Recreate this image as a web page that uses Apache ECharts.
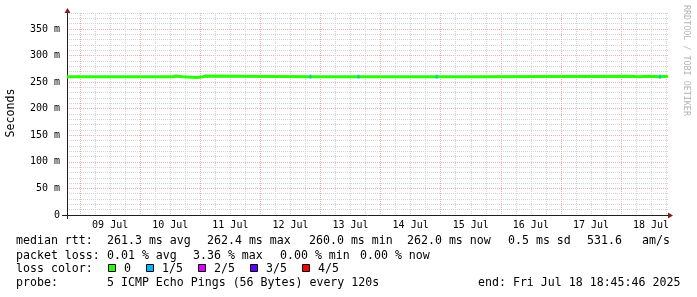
<!DOCTYPE html>
<html><head><meta charset="utf-8">
<script src="https://cdn.jsdelivr.net/npm/echarts@6/dist/echarts.min.js"></script>
<style>html,body{margin:0;padding:0;background:#fff}#c{width:697px;height:297px}</style>
</head><body><div id="c"></div>
<script>
// ---- data ----
const startTime = '2025-07-08 18:45:46';
const endTime   = '2025-07-18 18:45:46';
const sampleTimes = [
  '2025-07-08 18:46', '2025-07-10 13:10', '2025-07-10 14:10', '2025-07-10 16:46',
  '2025-07-10 22:46', '2025-07-11 01:10', '2025-07-11 02:10', '2025-07-12 19:58',
  '2025-07-12 20:40', '2025-07-13 15:10', '2025-07-13 15:50', '2025-07-14 22:22',
  '2025-07-14 23:00', '2025-07-15 15:10', '2025-07-18 03:10', '2025-07-18 07:10',
  '2025-07-18 11:10', '2025-07-18 15:34', '2025-07-18 16:10', '2025-07-18 18:45'
];
const medianRtt = [
  260.0, 261.5, 260.0, 258.6,
  260.0, 261.5, 260.0, 260.4,
  260.0, 260.4, 260.0, 260.4,
  260.0, 261.2, 260.0, 261.2,
  260.0, 260.4, 261.2, 261.2
];
const lossCount = [
  0, 0, 0, 0,
  0, 0, 0, 1,
  0, 1, 0, 1,
  0, 0, 0, 0,
  0, 1, 0, 0
];
const dayLabels = ['09 Jul','10 Jul','11 Jul','12 Jul','13 Jul','14 Jul','15 Jul','16 Jul','17 Jul','18 Jul'];
const yTickLabels = ['0','50 m','100 m','150 m','200 m','250 m','300 m','350 m'];
const lossColors = ['#26ff00','#00b8ff','#dd00ff','#5e00ff','#ff0000'];
const lossLabels = ['0','1/5','2/5','3/5','4/5'];
const statsRtt  = [['median rtt:',16],['261.3 ms avg',107],['262.4 ms max',207],['260.0 ms min',309],['262.0 ms now',407],['0.5 ms sd',508],['531.6',587],['am/s',642]];
const statsLoss = [['packet loss:',16],['0.01 % avg',107],['3.36 % max',193],['0.00 % min',280],['0.00 % now',360]];
const probeRow  = [['probe:',16],['5 ICMP Echo Pings (56 Bytes) every 120s',107],['end: Fri Jul 18 18:45:46 2025',478]];

// ---- helpers ----
function hrs(s){
  const [d,t]=s.split(' ');
  const [Y,M,D]=d.split('-').map(Number);
  const p=t.split(':').map(Number);
  return (D-9)*24 + p[0] + p[1]/60 + (p[2]||0)/3600;
}
const startH = hrs(startTime), endH = hrs(endTime);
const W=697, H=297, L=67, R=668, T=13, B=215;
const pxPerH = (R-L)/(endH-startH);
const g2min = Math.floor(startH/6)*6;
const mono = '"DejaVu Sans Mono", monospace';
const legendFont = '11.6px ' + mono;

const lineData = sampleTimes.map((t,i)=>[hrs(t), medianRtt[i]]);
const lossData = sampleTimes.map((t,i)=>[hrs(t), medianRtt[i], lossCount[i]]).filter(d=>d[2]>0);

const MINOR = '#d4d4d4', MAJOR = '#f0b0b0';
const AXIS = '#1f1f1f', ARROW = '#801f1f';

const graphics = [];
graphics.push({type:'line', shape:{x1:L+0.5,y1:B,x2:L+0.5,y2:B+4}, style:{stroke:AXIS,lineWidth:1}, z:10});
graphics.push({type:'line', shape:{x1:L-5,y1:B+0.5,x2:L,y2:B+0.5}, style:{stroke:AXIS,lineWidth:1}, z:10});
graphics.push({type:'polygon', shape:{points:[[L-2.5,T],[L+3.5,T],[L+0.5,T-5]]}, style:{fill:ARROW}, z:10});
graphics.push({type:'polygon', shape:{points:[[R,B-2.5],[R,B+3.5],[R+5,B+0.5]]}, style:{fill:ARROW}, z:10});
graphics.push({type:'text', x:11, y:113, rotation:Math.PI/2, style:{text:'Seconds', font:legendFont, fill:'#000', align:'center', verticalAlign:'middle'}});
graphics.push({type:'text', x:686, y:5, rotation:-Math.PI/2, style:{text:'RRDTOOL / TOBI OETIKER', font:'8.4px '+mono, fill:'#b4b4b4', align:'left', verticalAlign:'middle'}});
function row(items, y){ items.forEach(([s,x])=>graphics.push({type:'text', x:x, y:y, style:{text:s, font:legendFont, fill:'#000', align:'left', verticalAlign:'middle'}})); }
row(statsRtt, 241);
row(statsLoss, 255.5);
row([['loss color:',16]], 268.5);
row(probeRow, 283);
let bx = 108;
lossLabels.forEach((lab,i)=>{
  graphics.push({type:'rect', shape:{x:bx+0.5,y:264.5,width:7,height:7}, style:{fill:lossColors[i], stroke:'#000', lineWidth:1}});
  graphics.push({type:'text', x:bx+16, y:268.5, style:{text:lab, font:legendFont, fill:'#000', align:'left', verticalAlign:'middle'}});
  bx = bx + 16 + lab.length*7 + 15;
});

const chart = echarts.init(document.getElementById('c'), null, {renderer:'canvas'});
chart.setOption({
  animation:false,
  backgroundColor:'#ffffff',
  grid:[
    {left:L, right:W-R, top:T, bottom:H-B},
    {left:L-(startH-g2min)*pxPerH, right:W-R, top:T, bottom:H-B}
  ],
  xAxis:[
    {gridIndex:0, type:'value', min:startH, max:endH, z:5,
     axisLine:{show:true, onZero:false, lineStyle:{color:AXIS, width:1}}, axisTick:{show:false}, axisLabel:{show:false}, splitLine:{show:false}},
    {gridIndex:1, type:'value', min:g2min, max:endH, interval:6, z:0,
     axisLine:{show:false, onZero:false}, axisTick:{show:false},
     axisLabel:{show:true, margin:5, fontFamily:mono, fontSize:10, color:'#000',
       formatter:v=>{ const r=Math.round(v); if(Math.abs(v-r)>1e-6) return ''; if(((r%24)+24)%24!==12) return ''; const k=Math.floor(r/24); return dayLabels[k]||''; }},
     splitLine:{show:true, showMinLine:false, showMaxLine:false, lineStyle:{color:[MAJOR,MINOR,MINOR,MINOR], type:[1,1], width:1}}}
  ],
  yAxis:[
    {gridIndex:0, type:'value', min:0, max:380, interval:10, z:0,
     axisLine:{show:true, onZero:false, lineStyle:{color:AXIS, width:1}}, axisTick:{show:false},
     axisLabel:{show:true, margin:7, fontFamily:mono, fontSize:10, color:'#000',
       formatter:v=>{ const k=Math.round(v/50); if(Math.abs(v-k*50)>1e-6) return ''; return yTickLabels[k]||''; }},
     splitLine:{show:true, showMinLine:false, showMaxLine:true, lineStyle:{color:[MINOR,MINOR,MINOR,MINOR,MAJOR], type:[1,1], width:1}}},
    {gridIndex:1, type:'value', min:0, max:380, show:false, axisLine:{onZero:false}}
  ],
  series:[
    {type:'line', xAxisIndex:0, yAxisIndex:0, data:lineData, step:'end', showSymbol:false, symbol:'none',
     lineStyle:{color:lossColors[0], width:3}, z:6, silent:true},
    {type:'scatter', xAxisIndex:0, yAxisIndex:0, data:lossData, symbol:'rect', symbolSize:[2,4],
     itemStyle:{color:p=>lossColors[p.data[2]]}, z:7, silent:true}
  ],
  graphic:graphics
});
</script></body></html>
